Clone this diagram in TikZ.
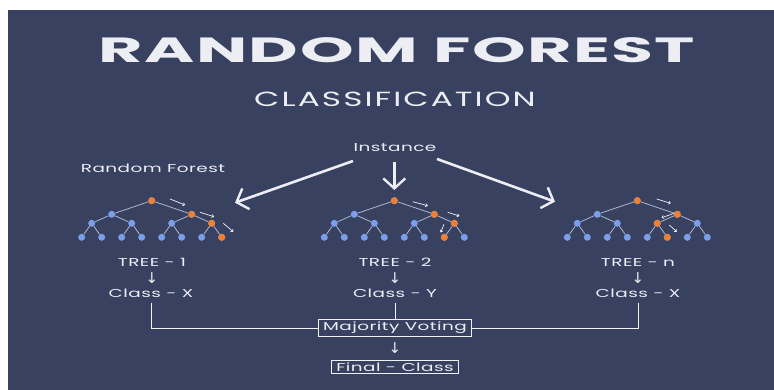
\documentclass[tikz,border=0pt]{standalone}
\usepackage{fontspec}
\setmainfont{Poppins}[FakeStretch=1.6,LetterSpace=4]
\newfontfamily\titlefont{Poppins}[FakeStretch=1.95,LetterSpace=4]
\newfontfamily\subfont{Poppins}[FakeStretch=1.6,LetterSpace=10]
\newfontfamily\symfont{DejaVu Sans}
\usetikzlibrary{arrows.meta}

\definecolor{navy}{RGB}{56,65,96}
\definecolor{hot}{RGB}{240,128,48}
\definecolor{cool}{RGB}{122,158,234}
\definecolor{twig}{RGB}{172,182,208}
\definecolor{ink}{RGB}{236,238,244}

\tikzset{
  txt/.style={text=ink,font=\fontsize{11.5}{13}\selectfont,inner sep=1pt},
  down/.style={text=ink,font=\symfont\fontsize{15}{16}\selectfont,inner sep=0pt},
  leaf/.style={circle,fill=cool,minimum size=7pt,inner sep=0pt},
  branch/.style={draw=twig,line width=0.8pt},
  path arrow/.style={draw=ink!85,line width=0.7pt,-{To[length=2.4pt,width=3.6pt]}},
  big arrow/.style={draw=ink,line width=2.6pt,-{Straight Barb[length=10pt,width=22pt,line width=2.4pt]}},
  votebox/.style={draw=ink!80,line width=0.9pt,inner xsep=5pt,inner ysep=2.5pt},
  link/.style={draw=ink!75,line width=1pt}
}

% one tree: name, x of root, orange nodes
\newcommand{\rftree}[3]{%
  \foreach \k/\dx/\dy in {1/0/0,2/-40/13.6,3/40/13.6,
      4/-60/22.6,5/-20/22.6,6/20/22.6,7/60/22.6,
      8/-70/36.6,9/-50/36.6,10/-30/36.6,11/-10/36.6,
      12/10/36.6,13/30/36.6,14/50/36.6,15/70/36.6}
    \node [leaf] (#1n\k) at ({#2+\dx},{200.7+\dy}) {};
  \foreach \k in {#3}
    \node [leaf,fill=hot] at (#1n\k) {};
  \foreach \c/\p in {2/1,3/1,4/2,5/2,6/3,7/3,8/4,9/4,
      10/5,11/5,12/6,13/6,14/7,15/7}
    \draw [branch] (#1n\c) -- (#1n\p);
}

\begin{document}
\begin{tikzpicture}[x=1pt,y=-1pt]
\useasboundingbox (0,0) rectangle (774,390);
\fill [navy] (8,10) rectangle (774,390);

\node [txt,font=\titlefont\fontsize{35}{36}\selectfont\bfseries] (title)    at (397, 50) {RANDOM FOREST};
\node [txt,font=\subfont\fontsize{20.5}{22}\selectfont]          (subtitle) at (395, 99) {CLASSIFICATION};
\node [txt] (instance) at (395,148) {Instance};
\node [txt] (rflabel)  at (153,168) {Random Forest};

% the three trees
\rftree{ta}{151.7}{1,3,7,15}
\rftree{tb}{394.3}{1,3,7,14}
\rftree{tc}{637.3}{1,3,6,13}

% instance goes to every tree
\coordinate (inleft)  at (353,161);
\coordinate (inmid)   at (394.3,162);
\coordinate (inright) at (437,159);
\draw [big arrow] (inleft)  -- (235,202.7);
\draw [big arrow] (inmid)   -- (394.3,190);
\draw [big arrow] (inright) -- (555,201.7);

% decision path
\draw [path arrow] (170,199)   -- (185,205);
\draw [path arrow] (200,212.3) -- (214,216.7);
\draw [path arrow] (223.3,223.3) -- (233.3,231.7);
\draw [path arrow] (412.7,201.7) -- (427.7,205.7);
\draw [path arrow] (447.7,212.3) -- (459.3,216);
\draw [path arrow] (444,224.3) -- (440.7,232.3);
\draw [path arrow] (656.7,199) -- (670.7,203.3);
\draw [path arrow] (674.3,213.3) -- (661.7,217.7);
\draw [path arrow] (669.3,225) -- (676.7,231.7);

\node [txt] (treea)  at (152,262) {TREE - 1};
\node [txt] (treeb)  at (395,262) {TREE - 2};
\node [txt] (treec)  at (638,262) {TREE - n};
\node [down] (downa) at (152,278) {↓};
\node [down] (downb) at (395,278) {↓};
\node [down] (downc) at (638,278) {↓};
\node [txt] (classa) at (151,293) {Class - X};
\node [txt] (classb) at (395,293) {Class - Y};
\node [txt] (classc) at (638,293) {Class - X};

\node [txt,votebox] (vote)  at (395,328) {Majority Voting};
\node [down] (downv) at (395,348) {↓};
\node [txt,votebox] (final) at (395,367) {Final - Class};

\draw [link] ([yshift=-4pt]classa.south) |- (vote.west);
\draw [link] ([yshift=-4pt]classb.south) -- (vote.north);
\draw [link] ([yshift=-4pt]classc.south) |- (vote.east);
\end{tikzpicture}
\end{document}
